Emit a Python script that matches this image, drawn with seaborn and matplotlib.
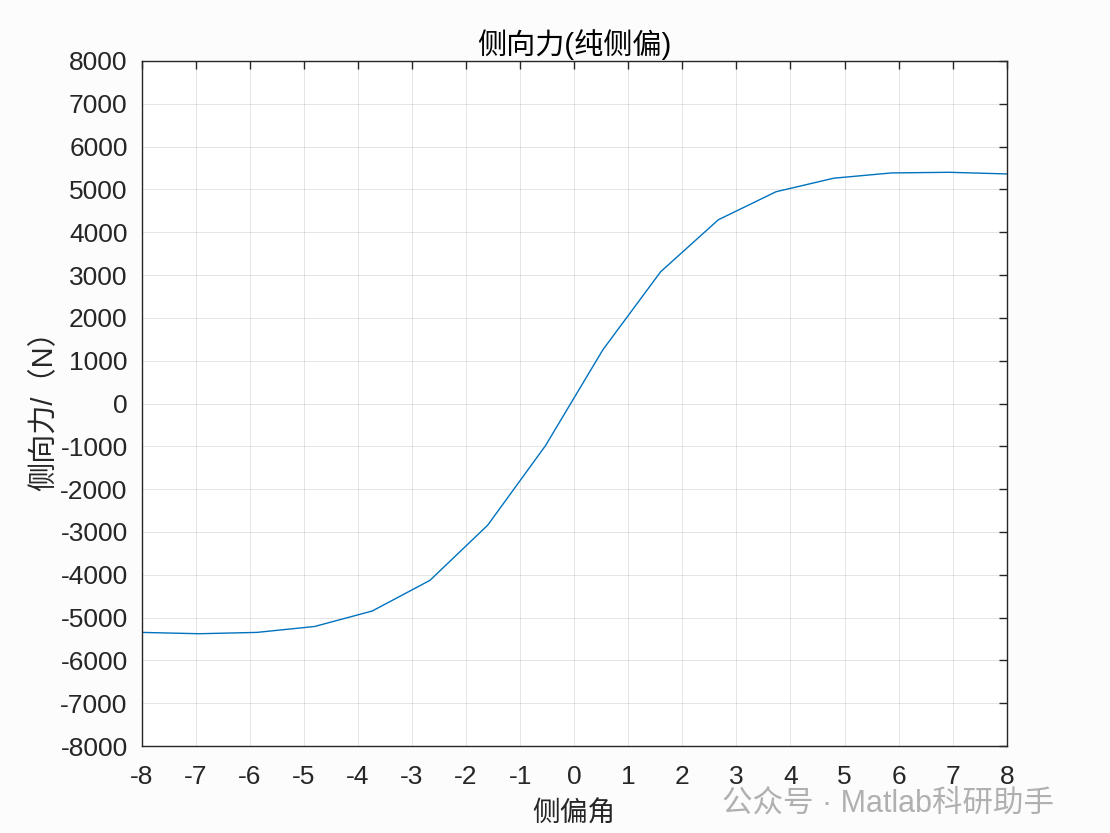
import matplotlib
matplotlib.use("Agg")
import matplotlib.pyplot as plt
import seaborn as sns
import pandas as pd

# data
slip_angle = [-8.0, -6.933, -5.867, -4.8, -3.733, -2.667, -1.6, -0.533,
              0.533, 1.6, 2.667, 3.733, 4.8, 5.867, 6.933, 8.0]
lateral_force = [-5346, -5377, -5346, -5208, -4846, -4131, -2844, -990,
                 1258, 3078, 4292, 4946, 5262, 5385, 5400, 5362]
x_ticks = list(range(-8, 9))
y_ticks = list(range(-8000, 8001, 1000))

title_text = "侧向力(纯侧偏)"
xlabel_text = "侧偏角"
ylabel_text = "侧向力/（N）"
watermark_text = "公众号 · Matlab科研助手"

sns.set_style("white")
fam = ['Liberation Sans', 'Noto Sans CJK SC', 'DejaVu Sans']
plt.rcParams['font.family'] = fam
plt.rcParams['axes.unicode_minus'] = False

df = pd.DataFrame({"x": slip_angle, "y": lateral_force})

fig = plt.figure(figsize=(11.1, 8.33), dpi=100, facecolor="#fcfcfc")
ax = fig.add_axes([0.1275, 0.1044, 0.7795, 0.8224])
ax.set_facecolor("white")

sns.lineplot(data=df, x="x", y="y", ax=ax, color="#0072BD", linewidth=1.0)

ax.set_xlim(-8, 8)
ax.set_ylim(-8000, 8000)
ax.set_xticks(x_ticks)
ax.set_yticks(y_ticks)
ax.set_xticklabels([str(v) for v in x_ticks])
ax.set_yticklabels([str(v) for v in y_ticks])
ax.tick_params(axis="both", direction="in", length=6, width=1, colors="#262626",
               labelsize=19, top=True, right=True)
ax.tick_params(axis="x", pad=14)
ax.tick_params(axis="y", pad=10)

ax.grid(True, color="#262626", alpha=0.12, linewidth=0.7)
for s in ax.spines.values():
    s.set_color("#262626")
    s.set_linewidth(1.0)

ax.set_title(title_text, fontsize=21, color="#000000", pad=5, fontweight="light")
ax.set_xlabel(xlabel_text, fontsize=20, color="#262626", labelpad=9, fontweight="light")
ax.set_ylabel(ylabel_text, fontsize=21, color="#262626", labelpad=1, fontweight="light")

fig.text(0.65, 0.035, watermark_text, fontsize=22, color="#a8a8a8",
         ha="left", va="center", alpha=0.9)

fig.savefig("out.png", dpi=100, facecolor=fig.get_facecolor())
